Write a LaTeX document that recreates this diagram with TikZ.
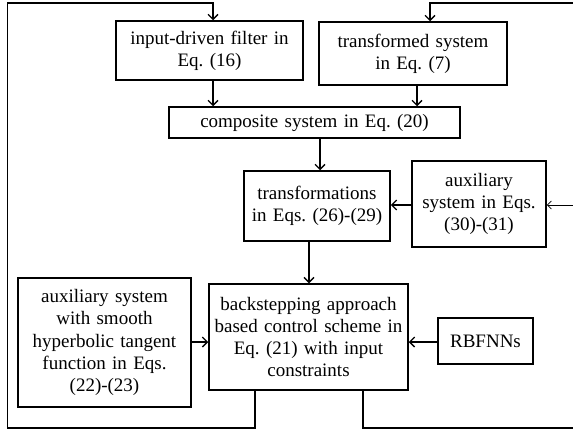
\documentclass[tikz,border=0pt]{standalone}
\usepackage{fontspec}
\setmainfont{Liberation Serif}
\usetikzlibrary{arrows.meta}
\frenchspacing
\begin{document}
\begin{tikzpicture}[x=1pt,y=-1pt,
  blk/.style={draw, line width=1.5pt, align=center, inner sep=0pt,
    font=\fontsize{19}{22.3}\selectfont},
  flow/.style={line width=1.5pt, line join=miter,
    -{Straight Barb[length=5pt,width=10pt,line width=1.3pt]}},
  thinflow/.style={line width=0.8pt,
    -{Straight Barb[length=4pt,width=8pt,line width=0.8pt]}},
]
\useasboundingbox (0,0) rectangle (573,434);

% blocks
\node[blk, minimum width=187pt, minimum height=59pt, text width=180pt] (filt) at (209.5,50.5)
  {input-driven filter in\\Eq. (16)};
\node[blk, minimum width=188pt, minimum height=63pt, text width=180pt] (trans) at (413,53.5)
  {transformed system\\in Eq. (7)};
\node[blk, minimum width=291pt, minimum height=31pt, text width=280pt] (comp) at (314.5,122.5)
  {composite system in Eq. (20)};
\node[blk, minimum width=146pt, minimum height=70pt, text width=140pt] (tfm) at (317,206)
  {transformations\\in Eqs. (26)-(29)};
\node[blk, minimum width=134pt, minimum height=86pt, text width=130pt] (aux1) at (479,204)
  {auxiliary\\system in Eqs.\\(30)-(31)};
\node[blk, minimum width=199pt, minimum height=106pt, text width=194pt] (bs) at (308.5,337)
  {backstepping approach\\based control scheme in\\Eq. (21) with input\\constraints};
\node[blk, minimum width=173pt, minimum height=129pt, text width=168pt] (aux2) at (104.5,342.5)
  {auxiliary system\\with smooth\\hyperbolic tangent\\function in Eqs.\\(22)-(23)};
\node[blk, minimum width=95pt, minimum height=46pt, text width=90pt] (rbf) at (485.5,341)
  {RBFNNs};

% routing coordinates
\coordinate (xa) at (213,0);
\coordinate (xb) at (417,0);
\coordinate (xc) at (320,0);
\coordinate (xd) at (309,0);
\coordinate (xe) at (430,0);
\coordinate (xL) at (255,0);
\coordinate (xR) at (363,0);
\coordinate (ya) at (0,205);
\coordinate (yb) at (0,342);
\coordinate (rin) at (575,205);
\coordinate (bl) at (7.3,428);
\coordinate (tl) at (7.3,3);
\coordinate (br) at (575,428);
\coordinate (tr) at (575,3);

% forward connections
\draw[flow] (filt.south -| xa) -- (comp.north -| xa);
\draw[flow] (trans.south -| xb) -- (comp.north -| xb);
\draw[flow] (comp.south -| xc) -- (tfm.north -| xc);
\draw[flow] (aux1.west |- ya) -- (tfm.east |- ya);
\draw[thinflow] (rin) -- (aux1.east |- rin);
\draw[flow] (tfm.south -| xd) -- (bs.north -| xd);
\draw[flow] (aux2.east |- yb) -- (bs.west |- yb);
\draw[flow] (rbf.west |- yb) -- (bs.east |- yb);

% feedback loops
\draw[flow] (bs.south -| xL) |- (bl) -- (tl) -| (filt.north -| xa);
\draw[flow] (bs.south -| xR) |- (br) -- (tr) -| (trans.north -| xe);
\end{tikzpicture}
\end{document}
